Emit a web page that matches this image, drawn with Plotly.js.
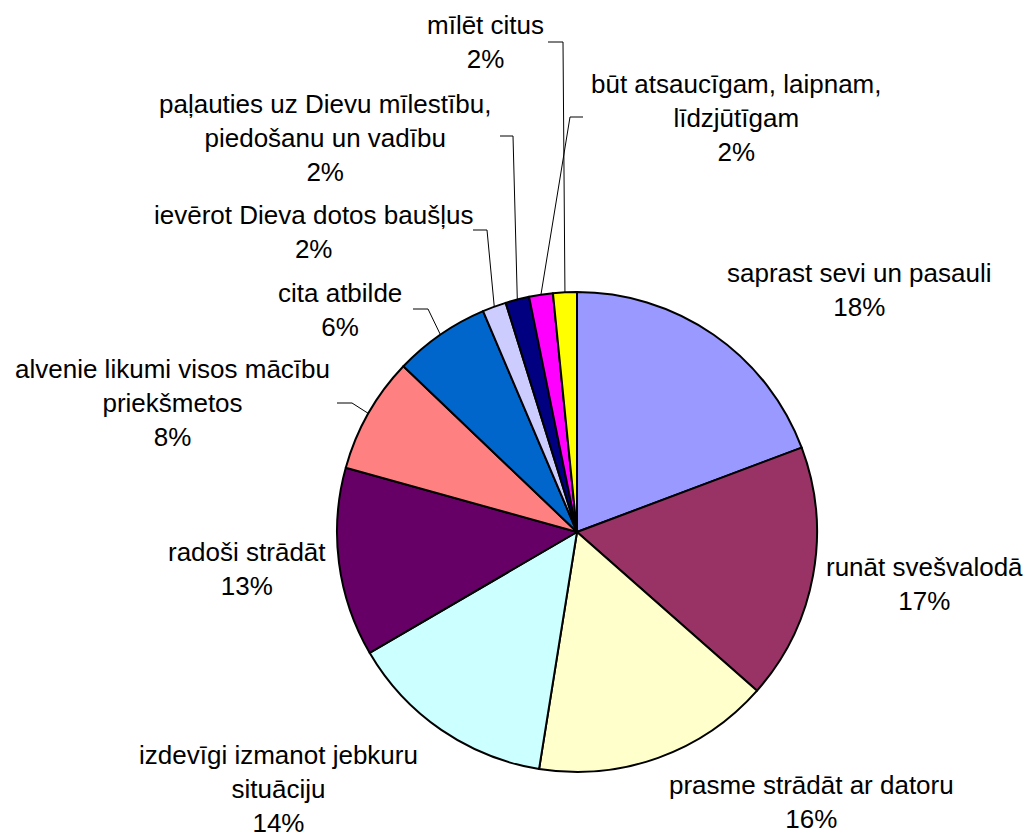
<!DOCTYPE html>
<html>
<head>
<meta charset="utf-8">
<script src="https://cdn.plot.ly/plotly-3.0.1.min.js"></script>
<style>html,body{margin:0;padding:0;background:#fff;}#chart{width:1028px;height:838px;}</style>
</head>
<body>
<div id="chart"></div>
<script>
// ---- data ----
const categories = [
  'saprast sevi un pasauli',
  'runāt svešvalodā',
  'prasme strādāt ar datoru',
  'izdevīgi izmanot jebkuru<br>situāciju',
  'radoši strādāt',
  'alvenie likumi visos mācību<br>priekšmetos',
  'cita atbilde',
  'ievērot Dieva dotos baušļus',
  'paļauties uz Dievu mīlestību,<br>piedošanu un vadību',
  'būt atsaucīgam, laipnam,<br>līdzjūtīgam',
  'mīlēt citus'
];
const values = [19.28, 17.21, 16.03, 14.08, 12.71, 7.81, 6.47, 1.6, 1.6, 1.6, 1.6];
const percentLabels = ['18%', '17%', '16%', '14%', '13%', '8%', '6%', '2%', '2%', '2%', '2%'];
const colors = ['#9999FF', '#993366', '#FFFFCC', '#CCFFFF', '#660066', '#FF8080',
                '#0066CC', '#CCCCFF', '#000080', '#FF00FF', '#FFFF00'];

// ---- layout (pixels) ----
const W = 1028, H = 838;
const CX = 577, CY = 532, R = 240;
const labelPos = [
  [859, 290], [924, 584], [811, 802], [278, 789], [247, 569], [172, 403],
  [340, 310], [313, 232], [325, 138], [736, 118], [485, 42]
];
// leader lines: index -> [startX, startY, elbowX]
const leaders = {
  5: [337, 403, 352],
  6: [413, 309, 428],
  7: [473, 230, 487],
  8: [500, 136, 513],
  9: [583, 117, 570],
  10: [548, 42, 563]
};

const px = x => x / W;
const py = y => 1 - y / H;

const total = values.reduce((a, b) => a + b, 0);
const midAngles = [];
let cum = 0;
values.forEach(v => { midAngles.push(2 * Math.PI * (cum + v / 2) / total); cum += v; });

const annotations = categories.map((c, i) => ({
  x: px(labelPos[i][0]), y: py(labelPos[i][1]), xref: 'paper', yref: 'paper',
  xanchor: 'center', yanchor: 'middle', align: 'center', showarrow: false,
  text: c + '<br>' + percentLabels[i],
  font: {family: 'Arial, "Liberation Sans", sans-serif', size: 26, color: '#000'}
}));

const shapes = Object.keys(leaders).map(k => {
  const i = +k, L = leaders[k], a = midAngles[i];
  const ex = CX + R * Math.sin(a), ey = CY - R * Math.cos(a);
  return {
    type: 'path', xref: 'paper', yref: 'paper',
    path: `M ${px(L[0])},${py(L[1])} L ${px(L[2])},${py(L[1])} L ${px(ex)},${py(ey)}`,
    line: {color: '#000', width: 1}
  };
});

const trace = {
  type: 'pie',
  labels: categories,
  values: values,
  sort: false,
  direction: 'clockwise',
  rotation: 0,
  textinfo: 'none',
  hoverinfo: 'none',
  marker: {colors: colors, line: {color: '#000', width: 2}},
  domain: {x: [px(CX - R), px(CX + R)], y: [py(CY + R), py(CY - R)]},
  showlegend: false
};

const layout = {
  width: W, height: H, autosize: false,
  margin: {l: 0, r: 0, t: 0, b: 0},
  paper_bgcolor: '#fff', plot_bgcolor: '#fff',
  showlegend: false,
  annotations: annotations,
  shapes: shapes
};

Plotly.newPlot('chart', [trace], layout, {displayModeBar: false, staticPlot: true});
</script>
</body>
</html>
